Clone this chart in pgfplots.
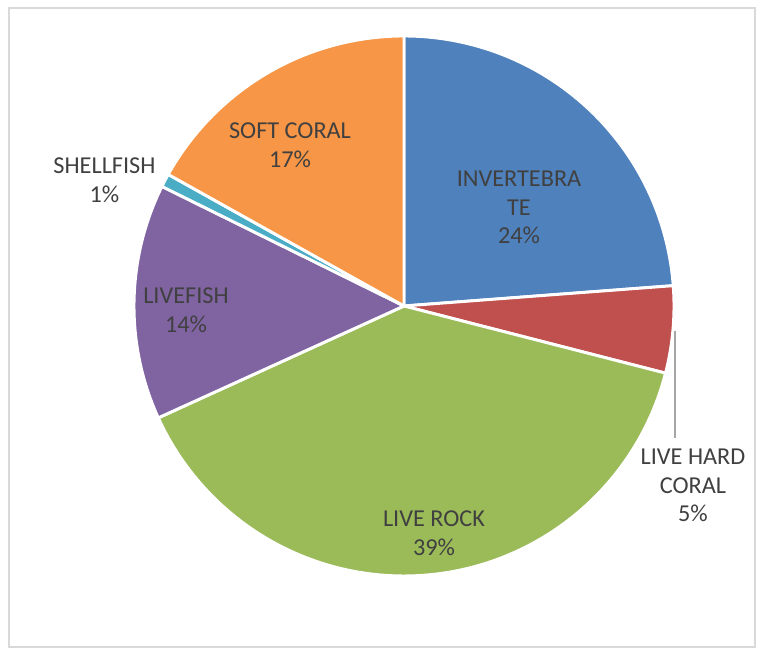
\documentclass[border=0pt]{standalone}
\usepackage{fontspec}
\setmainfont{Carlito}
\usepackage{pgfplots}
\usepackage{pgfplotstable}
\pgfplotsset{compat=1.18}

\definecolor{slice0}{HTML}{4F81BD}
\definecolor{slice1}{HTML}{C0504D}
\definecolor{slice2}{HTML}{9BBB59}
\definecolor{slice3}{HTML}{8064A2}
\definecolor{slice4}{HTML}{4BACC6}
\definecolor{slice5}{HTML}{F79646}
\definecolor{labelgray}{HTML}{404040}
\definecolor{leadergray}{HTML}{A6A6A6}
\definecolor{framegray}{HTML}{D9D9D9}

\tikzset{lbl/.style={font=\fontsize{18.2}{21.4}\selectfont, text=labelgray, align=center, inner sep=0pt}}

\pgfplotstableread{
name pct
Invertebrate 23.8
LiveHardCoral 5.2
LiveRock 39.2
Livefish 14.1
Shellfish 0.8
SoftCoral 16.9
}\piedata

\begin{document}
\begin{tikzpicture}
\begin{axis}[
  x=0.75pt, y=0.75pt,
  xmin=0, xmax=757, ymin=0, ymax=648,
  hide axis, clip=false,
]
\path (axis cs:0,0) rectangle (axis cs:757,648);
\fill[white] (axis cs:0,0) rectangle (axis cs:757,648);
\draw[framegray, line width=1.5pt] (axis cs:9,1) rectangle (axis cs:755,640);

\def\angstart{90}
\pgfplotsforeachungrouped \i in {0,...,5}{%
  \pgfplotstablegetelem{\i}{pct}\of\piedata
  \pgfmathsetmacro\angend{\angstart-3.6*\pgfplotsretval}%
  \edef\doslice{\noexpand\addplot[fill=slice\i, draw=white, line width=2.2pt, line join=round, domain=\angend:\angstart, samples=120] ({404+270*cos(x)},{342+270*sin(x)}) -- (axis cs:404,342) -- cycle;}%
  \doslice
  \global\let\angstart\angend
}

\addplot[leadergray, line width=0.8pt] coordinates {(675,317) (675,210)};

\node[lbl] at (axis cs:519,440.5) {INVERTEBRA\\TE\\24\%};
\node[lbl] at (axis cs:693,162.5) {LIVE HARD\\CORAL\\5\%};
\node[lbl] at (axis cs:434,114.5) {LIVE ROCK\\39\%};
\node[lbl] at (axis cs:186,338) {LIVEFISH\\14\%};
\node[lbl] at (axis cs:104.5,467.5) {SHELLFISH\\1\%};
\node[lbl] at (axis cs:290,502.5) {SOFT CORAL\\17\%};
\end{axis}
\end{tikzpicture}
\end{document}
